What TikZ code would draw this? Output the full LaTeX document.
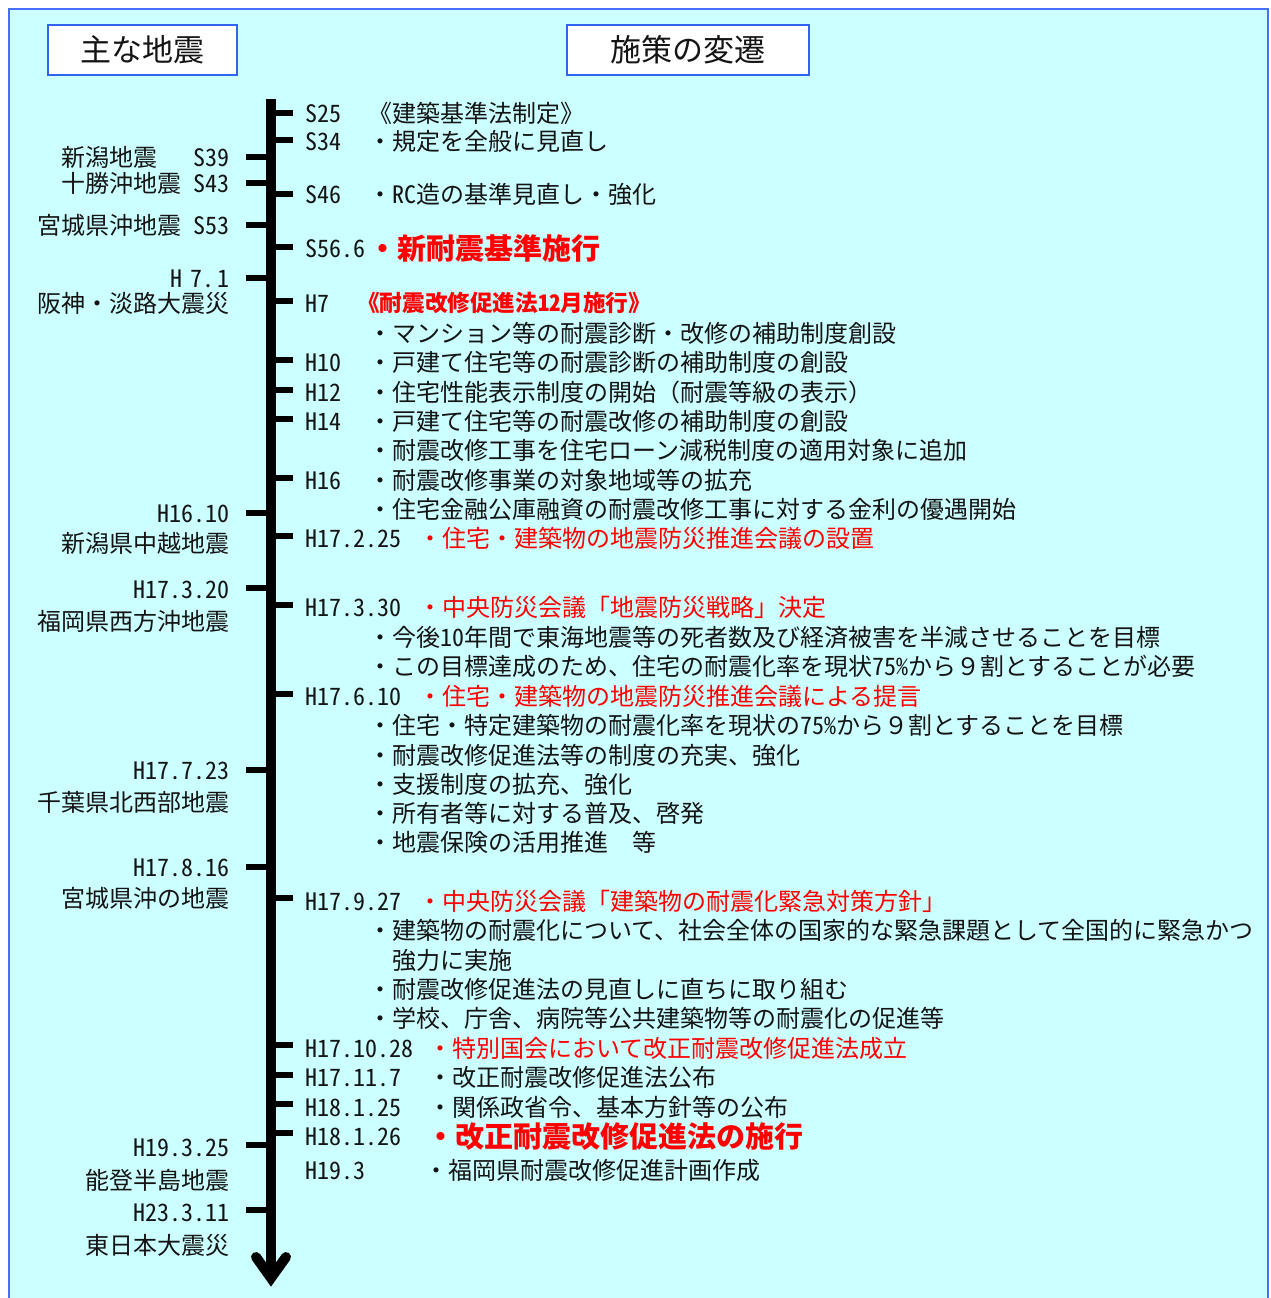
\documentclass[tikz,border=0pt]{standalone}
\usepackage{fontspec}
\setmainfont{Noto Sans CJK JP}
\newfontfamily\hw{Noto Sans CJK JP}[RawFeature=+hwid]
\definecolor{bgcyan}{RGB}{204,255,255}
\definecolor{frameblue}{RGB}{70,110,255}
\definecolor{boxblue}{RGB}{50,100,240}
\definecolor{hired}{RGB}{255,0,0}
\definecolor{ink}{RGB}{20,20,20}
\tikzset{
  txt/.style={anchor=west, inner sep=0pt, text=ink, font=\fontsize{24}{24}\selectfont, text height=21pt, text depth=3pt},
  datetxt/.style={txt, font=\hw\fontsize{24}{24}\selectfont},
  lbl/.style={txt, anchor=east},
  ldate/.style={datetxt, anchor=east},
  redtxt/.style={txt, text=hired},
  bigred/.style={txt, text=hired, font=\fontsize{29}{29}\bfseries\selectfont, text height=25.5pt, text depth=3.5pt},
  midred/.style={txt, text=hired, font=\fontsize{22.6}{22.6}\bfseries\selectfont, text height=20pt, text depth=2.6pt},
  titlebox/.style={draw=boxblue, line width=2pt, fill=white, inner sep=0pt, text=ink, font=\fontsize{31}{31}\selectfont, text height=27pt, text depth=4pt},
  tickr/.style={line width=5.5pt, draw=black},
  tickl/.style={line width=5.5pt, draw=black},
  mainline/.style={line width=10pt, draw=black}
}
\begin{document}
\begin{tikzpicture}[x=1pt,y=-1pt]
\useasboundingbox (0,0) rectangle (1271,1298);
\fill[white] (0,0) rectangle (1271,1298);
\draw[fill=bgcyan, draw=frameblue, line width=2.5pt] (9,9) rectangle (1268,1330);

% titles
\node[titlebox, minimum width=189pt, minimum height=50pt] (h1) at (142.5,50) {主な地震};
\node[titlebox, minimum width=242pt, minimum height=50pt] (h2) at (688,50) {施策の変遷};

% main time line
\draw[mainline] (271,99) -- (271,1278);
\draw[mainline, line cap=round, line join=miter] (256,1257) -- (271,1278) -- (286,1257);

% right ticks
\foreach \yy in {113,140,194,247,301,360,390,419,478,536,605,694,898,1045,1075,1104,1133}
  \draw[tickr] (271,\yy) -- (293,\yy);
% left ticks
\foreach \yy in {157,183,225,278,513,588,770,867,1145,1210}
  \draw[tickl] (246,\yy) -- (271,\yy);

% right side: measures
\node[datetxt] (d1) at (305,113) {S25};
\node[txt] (t1) at (368,113) {《建築基準法制定》};
\node[datetxt] (d2) at (305,141) {S34};
\node[txt] (t2) at (368,141) {・規定を全般に見直し};
\node[datetxt] (d3) at (305,194) {S46};
\node[txt] (t3) at (368,194) {・{\hw RC}造の基準見直し・強化};
\node[datetxt] (d4) at (305,248) {S56.6};
\node[bigred] (t4) at (368,248) {・新耐震基準施行};
\node[datetxt] (d5) at (305,303) {H7};
\node[midred] (t5) at (357,303) {《耐震改修促進法{\hw 12}月施行》};
\node[txt] (t5a) at (368,333) {・マンション等の耐震診断・改修の補助制度創設};
\node[datetxt] (d6) at (305,362) {H10};
\node[txt] (t6) at (368,362) {・戸建て住宅等の耐震診断の補助制度の創設};
\node[datetxt] (d7) at (305,392) {H12};
\node[txt] (t7) at (368,392) {・住宅性能表示制度の開始（耐震等級の表示）};
\node[datetxt] (d8) at (305,421) {H14};
\node[txt] (t8) at (368,421) {・戸建て住宅等の耐震改修の補助制度の創設};
\node[txt] (t8a) at (368,450) {・耐震改修工事を住宅ローン減税制度の適用対象に追加};
\node[datetxt] (d9) at (305,480) {H16};
\node[txt] (t9) at (368,480) {・耐震改修事業の対象地域等の拡充};
\node[txt] (t9a) at (368,509) {・住宅金融公庫融資の耐震改修工事に対する金利の優遇開始};
\node[datetxt] (d10) at (305,538) {H17.2.25};
\node[redtxt] (t10) at (418,538) {・住宅・建築物の地震防災推進会議の設置};
\node[datetxt] (d11) at (305,607) {H17.3.30};
\node[redtxt] (t11) at (418,607) {・中央防災会議「地震防災戦略」決定};
\node[txt] (t11a) at (368,637) {・今後{\hw 10}年間で東海地震等の死者数及び経済被害を半減させることを目標};
\node[txt] (t11b) at (368,666) {・この目標達成のため、住宅の耐震化率を現状{\hw 75\%}から９割とすることが必要};
\node[datetxt] (d12) at (305,696) {H17.6.10};
\node[redtxt] (t12) at (418,696) {・住宅・建築物の地震防災推進会議による提言};
\node[txt] (t12a) at (368,725) {・住宅・特定建築物の耐震化率を現状の{\hw 75\%}から９割とすることを目標};
\node[txt] (t12b) at (368,755) {・耐震改修促進法等の制度の充実、強化};
\node[txt] (t12c) at (368,784) {・支援制度の拡充、強化};
\node[txt] (t12d) at (368,813) {・所有者等に対する普及、啓発};
\node[txt] (t12e) at (368,842) {・地震保険の活用推進　等};
\node[datetxt] (d13) at (305,901) {H17.9.27};
\node[redtxt] (t13) at (418,901) {・中央防災会議「建築物の耐震化緊急対策方針」};
\node[txt] (t13a) at (368,930) {・建築物の耐震化について、社会全体の国家的な緊急課題として全国的に緊急かつ};
\node[txt] (t13b) at (392,960) {強力に実施};
\node[txt] (t13c) at (368,989) {・耐震改修促進法の見直しに直ちに取り組む};
\node[txt] (t13d) at (368,1018) {・学校、庁舎、病院等公共建築物等の耐震化の促進等};
\node[datetxt] (d14) at (305,1048) {H17.10.28};
\node[redtxt] (t14) at (428,1048) {・特別国会において改正耐震改修促進法成立};
\node[datetxt] (d15) at (305,1077) {H17.11.7};
\node[txt] (t15) at (428,1077) {・改正耐震改修促進法公布};
\node[datetxt] (d16) at (305,1107) {H18.1.25};
\node[txt] (t16) at (428,1107) {・関係政省令、基本方針等の公布};
\node[datetxt] (d17) at (305,1136) {H18.1.26};
\node[bigred] (t17) at (426,1136) {・改正耐震改修促進法の施行};
\node[datetxt] (d18) at (305,1170) {H19.3};
\node[txt] (t18) at (424,1170) {・福岡県耐震改修促進計画作成};

% left side: earthquakes
\node[lbl] (e1) at (230,157) {新潟地震\hspace{36pt}{\hw S39}};
\node[lbl] (e2) at (230,183) {十勝沖地震\hspace{12pt}{\hw S43}};
\node[lbl] (e3) at (230,225) {宮城県沖地震\hspace{12pt}{\hw S53}};
\node[ldate] (e4) at (230,278) {H\hspace{8pt}7.\hspace{3pt}1};
\node[lbl] (e5) at (230,303) {阪神・淡路大震災};
\node[ldate] (e6) at (230,513) {H16.10};
\node[lbl] (e7) at (230,543) {新潟県中越地震};
\node[ldate] (e8) at (230,589) {H17.3.20};
\node[lbl] (e9) at (230,621) {福岡県西方沖地震};
\node[ldate] (e10) at (230,770) {H17.7.23};
\node[lbl] (e11) at (230,802) {千葉県北西部地震};
\node[ldate] (e12) at (230,867) {H17.8.16};
\node[lbl] (e13) at (230,898) {宮城県沖の地震};
\node[ldate] (e14) at (230,1147) {H19.3.25};
\node[lbl] (e15) at (230,1180) {能登半島地震};
\node[ldate] (e16) at (230,1212) {H23.3.11};
\node[lbl] (e17) at (230,1245) {東日本大震災};
\end{tikzpicture}
\end{document}
